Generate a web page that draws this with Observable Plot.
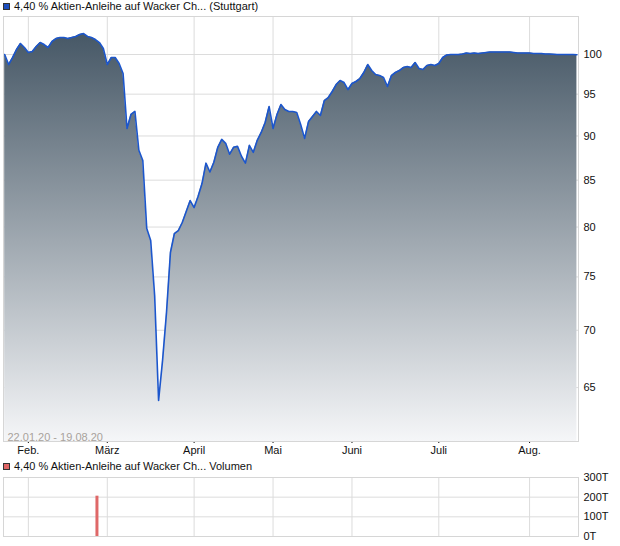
<!DOCTYPE html>
<html>
<head>
<meta charset="utf-8">
<script src="https://cdn.jsdelivr.net/npm/d3@7"></script>
<script src="https://cdn.jsdelivr.net/npm/@observablehq/plot@0.6"></script>
<style>
  html, body { margin: 0; padding: 0; background: #fff; overflow: hidden; }
  body { width: 620px; height: 546px; font-family: "Liberation Sans", Arial, sans-serif; font-size: 11px; color: #111; }
  .legend { position: relative; height: 14px; white-space: nowrap; }
  .legend .sw { position: absolute; left: 3px; top: 3px; width: 5px; height: 5px; border: 1px solid #333; }
  .legend .tx { position: absolute; left: 14px; top: 0px; line-height: 13px; }
  svg { display: block; }
  [aria-label^="x-axis"] line { stroke: #c8c8c8; }
</style>
</head>
<body>
<div id="wrap"></div>
<script>
// ---- data ----
const monthTicks = [8, 28, 50, 70, 90, 112, 135];            // trading-day index of month starts
const monthLabels = ["Feb.", "März", "April", "Mai", "Juni", "Juli", "Aug."];
const priceTicks = [65, 70, 75, 80, 85, 90, 95, 100];
const priceStartIndex = 2;
const prices = [
  100.00, 98.71, 99.61, 100.65, 101.43, 100.91, 100.26, 100.39, 101.04, 101.56,
  101.30, 100.91, 101.70, 102.09, 102.22, 102.22, 102.09, 102.22, 102.36, 102.62,
  102.75, 102.36, 102.22, 101.96, 101.56, 100.78, 98.71, 99.61, 99.61, 98.84,
  97.57, 90.88, 92.54, 92.90, 88.35, 87.19, 79.84, 78.61, 73.21, 63.92,
  67.31, 71.62, 77.41, 79.33, 79.63, 80.47, 81.62, 82.79, 82.04, 83.22,
  84.63, 86.89, 85.90, 87.00, 88.69, 89.60, 89.14, 87.90, 88.69, 88.80,
  87.67, 86.89, 88.91, 88.12, 89.49, 90.41, 91.58, 93.50, 90.88, 92.54,
  93.74, 93.14, 92.90, 92.90, 92.78, 91.35, 89.72, 91.71, 92.30, 92.90,
  92.42, 94.22, 94.59, 95.33, 96.19, 96.69, 96.44, 95.57, 96.32, 96.57,
  96.94, 97.70, 98.71, 97.95, 97.44, 97.32, 97.07, 95.95, 97.32, 97.70,
  97.95, 98.33, 98.46, 98.33, 98.97, 98.20, 98.08, 98.59, 98.71, 98.59,
  98.84, 99.61, 99.94, 100.00, 100.00, 100.00, 100.06, 100.19, 100.13, 100.19,
  100.13, 100.19, 100.26, 100.32, 100.32, 100.32, 100.32, 100.32, 100.32, 100.26,
  100.19, 100.19, 100.19, 100.19, 100.13, 100.13, 100.13, 100.06, 100.06, 100.03,
  100.00, 100.00, 100.00, 100.00, 100.00, 99.97
];
const volumeIndex = [25];
const volumeValue = [205000];
const volumeTicks = [0, 100000, 200000, 300000];
const volumeLabels = ["0T", "100T", "200T", "300T"];
const legendPrice = "4,40 % Aktien-Anleihe auf Wacker Ch... (Stuttgart)";
const legendVolume = "4,40 % Aktien-Anleihe auf Wacker Ch... Volumen";
const dateRange = "22.01.20 - 19.08.20";

// ---- build ----
const priceData = prices.map((v, k) => ({i: priceStartIndex + k, v}));
const volumeData = volumeIndex.map((i, k) => ({i, v: volumeValue[k]}));
const xDomain = [1.7, 147.4];
const yDomain = [60.62, 105.04];
const gridColor = "#dcdcdc";
const font = {fontFamily: "'Liberation Sans', Arial, sans-serif", fontSize: "11px", color: "#111", background: "#fff", overflow: "visible"};
const wrap = document.getElementById("wrap");

function legend(text, color) {
  const d = document.createElement("div");
  d.className = "legend";
  d.innerHTML = `<span class="sw" style="background:${color}"></span><span class="tx"></span>`;
  d.querySelector(".tx").textContent = text;
  return d;
}

wrap.appendChild(legend(legendPrice, "#1d4fbf"));

const main = Plot.plot({
  width: 620, height: 446,
  marginTop: 2, marginBottom: 19, marginLeft: 3, marginRight: 42,
  style: font,
  x: {type: "linear", domain: xDomain, ticks: monthTicks, tickFormat: d => monthLabels[monthTicks.indexOf(d)], tickSize: 2, tickPadding: 3, label: null},
  y: {type: "log", domain: yDomain, ticks: priceTicks, tickFormat: d => String(d), axis: "right", tickSize: 0, tickPadding: 5, label: null},
  marks: [
    Plot.ruleY(priceTicks, {stroke: gridColor}),
    Plot.ruleX(monthTicks, {stroke: gridColor}),
    Plot.areaY(priceData, {x: "i", y1: yDomain[0], y2: "v", fill: "url(#priceGrad)"}),
    Plot.lineY(priceData, {x: "i", y: "v", stroke: "#1c56cc", strokeWidth: 1.6}),
    Plot.text([dateRange], {frameAnchor: "bottom-left", dx: 4, dy: -1, text: d => d, fill: "#a8a29c", textAnchor: "start", lineAnchor: "bottom", fontSize: 11}),
    Plot.frame({stroke: "#d6d6d6"})
  ]
});
const defs = d3.select(main).insert("defs", ":first-child");
const grad = defs.append("linearGradient").attr("id", "priceGrad")
  .attr("gradientUnits", "userSpaceOnUse").attr("x1", 0).attr("x2", 0).attr("y1", 2).attr("y2", 427);
grad.append("stop").attr("offset", "0%").attr("stop-color", "#3f5160");
grad.append("stop").attr("offset", "100%").attr("stop-color", "#f5f6f8");
wrap.appendChild(main);

wrap.appendChild(legend(legendVolume, "#e06666"));

const vol = Plot.plot({
  width: 620, height: 72,
  marginTop: 3, marginBottom: 10, marginLeft: 3, marginRight: 42,
  style: font,
  x: {type: "linear", domain: xDomain, axis: null},
  y: {domain: [0, 300000], ticks: volumeTicks, tickFormat: d => volumeLabels[volumeTicks.indexOf(d)], axis: "right", tickSize: 0, tickPadding: 5, label: null},
  marks: [
    Plot.ruleY(volumeTicks, {stroke: gridColor}),
    Plot.ruleX(monthTicks, {stroke: gridColor}),
    Plot.ruleX(volumeData, {x: "i", y1: 0, y2: "v", stroke: "#df6868", strokeWidth: 3, dx: 1.5}),
    Plot.frame({stroke: "#d6d6d6"})
  ]
});
wrap.appendChild(vol);
</script>
</body>
</html>
